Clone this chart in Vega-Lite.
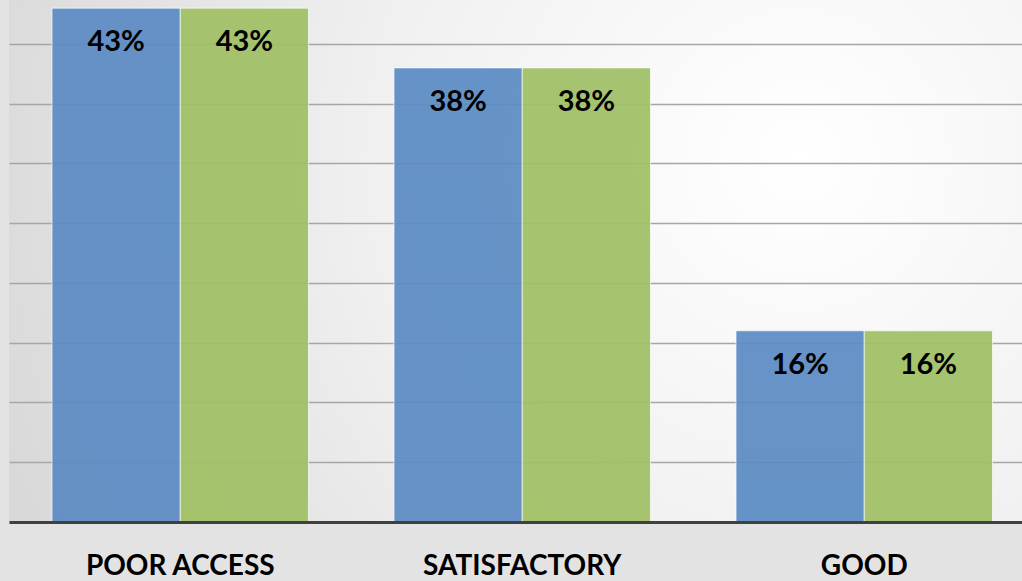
{
  "$schema": "https://vega.github.io/schema/vega-lite/v6.json",
  "width": 1013,
  "height": 522,
  "padding": {"left": 9, "top": 0, "right": 0, "bottom": 59},
  "autosize": {"type": "none"},
  "background": "#e3e3e3",
  "config": {
    "view": {
      "stroke": null,
      "fill": {
        "gradient": "radial",
        "x1": 0.78, "y1": 0.4, "r1": 0,
        "x2": 0.78, "y2": 0.4, "r2": 0.85,
        "stops": [
          {"offset": 0, "color": "#ffffff"},
          {"offset": 0.5, "color": "#f0f0f0"},
          {"offset": 1, "color": "#d8d8d8"}
        ]
      }
    },
    "font": "Lato"
  },
  "data": {
    "values": [
      {"category": "POOR ACCESS", "series": "Series 1", "value": 0.43},
      {"category": "POOR ACCESS", "series": "Series 2", "value": 0.43},
      {"category": "SATISFACTORY", "series": "Series 1", "value": 0.38},
      {"category": "SATISFACTORY", "series": "Series 2", "value": 0.38},
      {"category": "GOOD", "series": "Series 1", "value": 0.16},
      {"category": "GOOD", "series": "Series 2", "value": 0.16}
    ]
  },
  "encoding": {
    "x": {
      "field": "category",
      "type": "nominal",
      "sort": ["POOR ACCESS", "SATISFACTORY", "GOOD"],
      "scale": {"paddingInner": 0.25, "paddingOuter": 0.106, "align": 0.593},
      "axis": {
        "title": null,
        "labelAngle": 0,
        "labelFont": "Lato",
        "labelFontWeight": "bold",
        "labelFontSize": 28,
        "labelColor": "#000000",
        "labelPadding": 30,
        "labelLimit": 0,
        "ticks": false,
        "domainColor": "#404040",
        "domainWidth": 3,
        "zindex": 2
      }
    },
    "xOffset": {"field": "series", "type": "nominal", "scale": {"paddingInner": 0, "paddingOuter": 0}},
    "y": {
      "field": "value",
      "type": "quantitative",
      "scale": {"domain": [0, 0.4368], "nice": false, "zero": true},
      "axis": {
        "title": null,
        "labels": false,
        "ticks": false,
        "domain": false,
        "values": [0.05, 0.1, 0.15, 0.2, 0.25, 0.3, 0.35, 0.4],
        "gridColor": "#a6a6a6",
        "gridWidth": 1.5
      }
    }
  },
  "layer": [
    {
      "mark": {"type": "bar", "opacity": 0.92, "stroke": "#ffffff", "strokeWidth": 1, "strokeOpacity": 0.7},
      "encoding": {
        "color": {
          "field": "series",
          "type": "nominal",
          "scale": {"range": ["#5b8bc4", "#a0c064"]},
          "legend": null
        }
      }
    },
    {
      "mark": {"type": "text", "baseline": "middle", "dy": 34, "fontSize": 29, "fontWeight": "bold", "font": "Lato", "color": "#000000"},
      "encoding": {
        "text": {"field": "value", "type": "quantitative", "format": ".0%"}
      }
    }
  ]
}
